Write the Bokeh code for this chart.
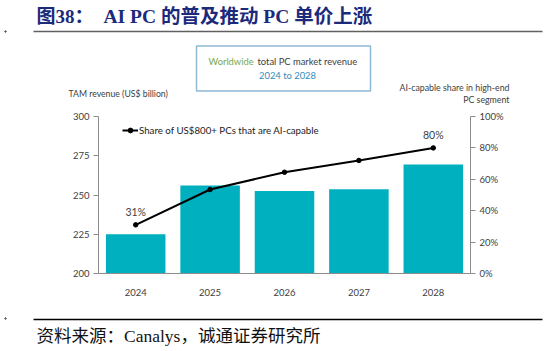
from bokeh.plotting import figure
from bokeh.layouts import column
from bokeh.models import (Range1d, LinearAxis, FixedTicker, NumeralTickFormatter,
                          Label, Legend, LegendItem, ColumnDataSource)
from bokeh.embed import file_html
from bokeh.resources import INLINE
from bokeh.core.properties import value

years = ["2024", "2025", "2026", "2027", "2028"]
revenue = [225.0, 256.0, 252.5, 253.7, 269.5]          # TAM revenue, US$ billion
ai_share = [0.31, 0.535, 0.645, 0.72, 0.80]            # share of US$800+ PCs AI-capable
share_labels = ["31%", "", "", "", "80%"]
left_ticks = [200, 225, 250, 275, 300]
right_ticks = [0.0, 0.2, 0.4, 0.6, 0.8, 1.0]

W = 548
HEAD_H, MAIN_H, FOOT_H = 108, 197, 46
FL, FR = 98, 470            # frame left/right (page px)
FT, FB = 116, 273           # frame top/bottom (page px)

BAR = "#00B0BF"
AX = "#8c8c8c"
TXT = "#404040"
FONT = "Lato"
HFONT = "Liberation Serif, Noto Sans CJK SC"
NAVY = "#1c2a7c"


def no_align(f):
    if "frame_align" in f.properties():
        f.frame_align = False
    return f


def canvas_fig(h):
    f = figure(width=W, height=h, x_range=Range1d(0, W), y_range=Range1d(h, 0),
               x_axis_type=None, y_axis_type=None, output_backend="svg",
               toolbar_location=None, min_border=0)
    f.outline_line_color = None
    f.xgrid.grid_line_color = None
    f.ygrid.grid_line_color = None
    return no_align(f)


def lab(f, text, x, y, size, color, align="left", font=FONT, style="normal"):
    f.add_layout(Label(x=x, y=y, text=text, text_font=font, text_font_size=size,
                       text_color=color, text_align=align,
                       text_baseline="middle", text_font_style=style))


# ---------------- header (page y 0..108) ----------------
hd = canvas_fig(HEAD_H)
lab(hd, "图38：", 36, 16, "19px", NAVY, font=HFONT, style="bold")
lab(hd, "AI PC 的普及推动 PC 单价上涨", 103, 16, "19.5px", NAVY, font=HFONT, style="bold")
hd.segment(x0=[33], y0=[31], x1=[542], y1=[31], line_color="#606060", line_width=1.5)
hd.scatter(x=[5], y=[31], size=1.5, color="#555555")
hd.rect(x=[283], y=[68], width=[174], height=[45], fill_color=None,
        line_color="#8fb8d4", line_width=1.5)
lab(hd, "Worldwide", 208, 61, "9.4px", "#76aa4c")
lab(hd, "total PC market revenue", 257, 61, "9.4px", TXT)
lab(hd, "2024 to 2028", 287, 74.5, "9.4px", "#2f8dbd", align="center")
lab(hd, "TAM revenue (US$ billion)", 68, 93, "8.7px", TXT)
lab(hd, "AI-capable share in high-end", 509, 87, "8.8px", TXT, align="right")
lab(hd, "PC segment", 509, 99, "8.8px", TXT, align="right")

# ---------------- main chart (page y 108..305) ----------------
p = figure(width=W, height=MAIN_H, x_range=years, y_range=Range1d(200, 300),
           output_backend="svg", toolbar_location=None,
           min_border_left=FL, min_border_right=W - FR,
           min_border_top=FT - HEAD_H, min_border_bottom=HEAD_H + MAIN_H - FB)
no_align(p)
p.outline_line_color = None
p.xgrid.grid_line_color = None
p.ygrid.grid_line_color = None
p.extra_y_ranges = {"pct": Range1d(0, 1)}

src = ColumnDataSource(dict(year=years, revenue=revenue, share=ai_share, lab=share_labels))

p.vbar(x="year", top="revenue", bottom=200, width=0.8, source=src,
       fill_color=BAR, line_color=None)
ln = p.line(x="year", y="share", source=src, y_range_name="pct",
            line_color="black", line_width=2)
mk = p.scatter(x="year", y="share", source=src, y_range_name="pct",
               size=4.5, fill_color="black", line_color="black")
p.text(x="year", y="share", text="lab", source=src, y_range_name="pct",
       text_align="center", text_baseline="middle", y_offset=-13,
       text_font=value(FONT), text_font_size="10.5px", text_color=TXT)


def style_axis(ax):
    ax.axis_line_color = AX
    ax.major_tick_line_color = AX
    ax.minor_tick_line_color = None
    ax.major_tick_out = 5
    ax.major_tick_in = 0
    ax.major_label_text_font = FONT
    ax.major_label_text_font_size = "9.5px"
    ax.major_label_text_color = TXT


yl = p.yaxis[0]
yl.ticker = FixedTicker(ticks=left_ticks)
style_axis(yl)
yl.major_label_standoff = 4

yr = LinearAxis(y_range_name="pct", ticker=FixedTicker(ticks=right_ticks),
                formatter=NumeralTickFormatter(format="0%"))
style_axis(yr)
yr.major_label_standoff = 4
p.add_layout(yr, "right")

xa = p.xaxis[0]
style_axis(xa)
xa.major_tick_line_color = None
xa.major_label_standoff = 10

leg = Legend(items=[LegendItem(label="Share of US$800+ PCs that are AI-capable",
                               renderers=[ln, mk])],
             location=(24, 137), orientation="horizontal",
             background_fill_alpha=0, border_line_color=None,
             padding=0, margin=0, spacing=0,
             glyph_width=16, glyph_height=12, label_height=12,
             label_standoff=1, label_text_font=FONT,
             label_text_font_size="9.7px", label_text_color="#222222")
p.add_layout(leg)

# ---------------- footer (page y 305..351) ----------------
ft = canvas_fig(FOOT_H)
ft.segment(x0=[33], y0=[14], x1=[542], y1=[14], line_color="#000000", line_width=1.5)
ft.scatter(x=[5], y=[13], size=1.5, color="#555555")
lab(ft, "资料来源：Canalys，诚通证券研究所", 36, 30, "17.5px", "#111111", font=HFONT)

layout = column(hd, p, ft, spacing=0)
open("out.html", "w").write(file_html(layout, INLINE))
